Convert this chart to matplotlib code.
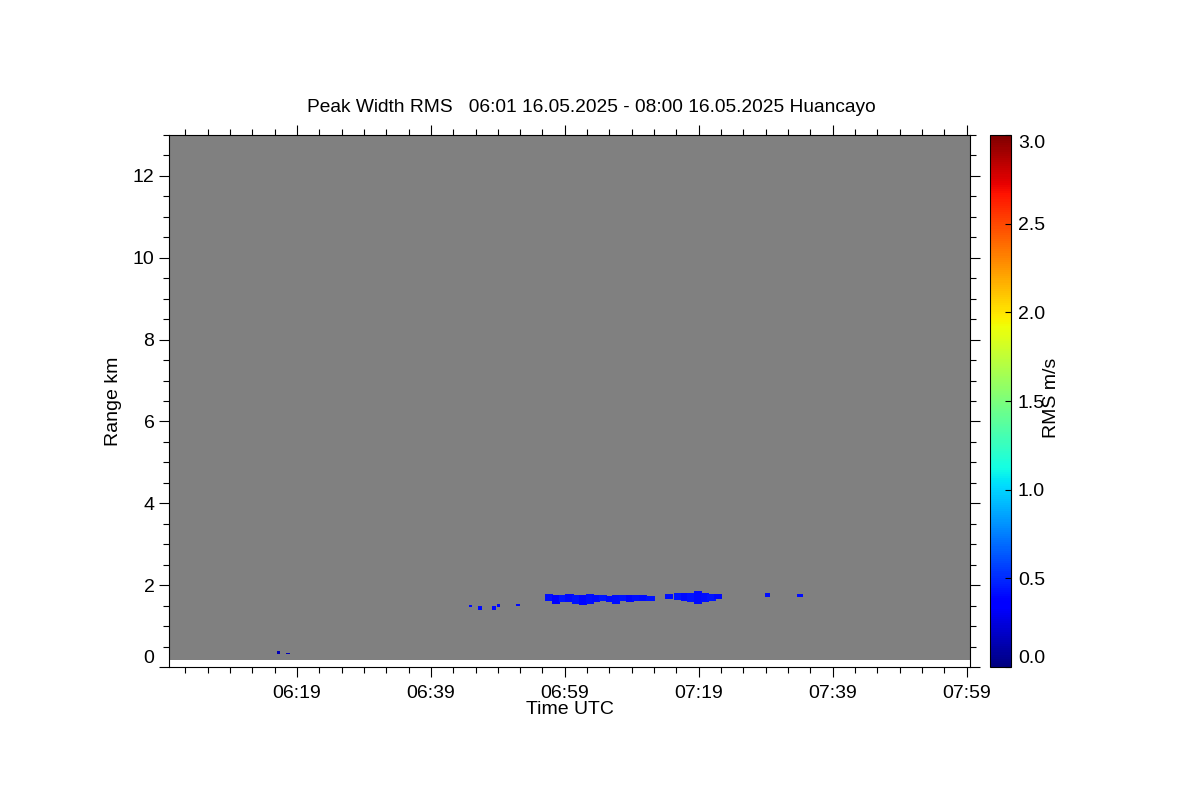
import numpy as np
import matplotlib
matplotlib.use("Agg")
import matplotlib.pyplot as plt
from matplotlib.ticker import FixedLocator, MultipleLocator

plt.rcParams['font.family'] = ['Liberation Sans', 'DejaVu Sans']

# ---- data (time in minutes after 06:00 UTC, range in km, RMS in m/s) ----
seg_t0 = [56.2, 57.2, 58.2, 59.2, 60.2, 61.2, 62.2, 63.2, 64.2, 65.2, 66.2,
          67.2, 68.2, 69.2, 70.2, 71.2,
          74.0, 75.5, 76.5, 77.5, 78.5, 79.5, 80.5, 81.5,
          89.0, 93.9,
          44.8, 46.3, 48.2, 49.0, 51.8, 16.2, 17.5]
seg_t1 = [57.2, 58.2, 59.2, 60.2, 61.2, 62.2, 63.2, 64.2, 65.2, 66.2, 67.2,
          68.2, 69.2, 70.2, 71.2, 72.4,
          75.0, 76.5, 77.5, 78.5, 79.5, 80.5, 81.5, 82.5,
          89.7, 94.5,
          45.0, 46.5, 48.5, 49.2, 52.1, 16.4, 17.7]
seg_bot = [1.60, 1.56, 1.57, 1.59, 1.54, 1.53, 1.56, 1.58, 1.60, 1.59, 1.55,
           1.60, 1.58, 1.61, 1.60, 1.62,
           1.66, 1.63, 1.60, 1.57, 1.56, 1.58, 1.62, 1.66,
           1.71, 1.71,
           1.46, 1.41, 1.41, 1.46, 1.49, 0.32, 0.33]
seg_top = [1.78, 1.77, 1.76, 1.78, 1.77, 1.75, 1.78, 1.77, 1.76, 1.74, 1.77,
           1.76, 1.75, 1.77, 1.76, 1.74,
           1.78, 1.81, 1.83, 1.82, 1.84, 1.83, 1.80, 1.78,
           1.83, 1.80,
           1.51, 1.49, 1.49, 1.54, 1.56, 0.37, 0.36]
seg_val = [0.42, 0.38, 0.44, 0.40, 0.43, 0.39, 0.42, 0.41, 0.44, 0.40, 0.42,
           0.43, 0.39, 0.42, 0.41, 0.43,
           0.42, 0.44, 0.41, 0.43, 0.40, 0.42, 0.44, 0.41,
           0.42, 0.42,
           0.40, 0.40, 0.40, 0.40, 0.40, 0.15, 0.15]

x_major = [19, 39, 59, 79, 99, 119]
x_labels = ['06:19', '06:39', '06:59', '07:19', '07:39', '07:59']
cb_ticks = [0.0, 0.5, 1.0, 1.5, 2.0, 2.5, 3.0]
title = 'Peak Width RMS   06:01 16.05.2025 - 08:00 16.05.2025 Huancayo'

# ---- grid ----
t_edges = np.arange(-0.1, 119.5 + 0.001, 0.2)
r_edges = np.arange(0.17, 13.0 + 0.001, 0.03)
tc = 0.5 * (t_edges[:-1] + t_edges[1:])
rc = 0.5 * (r_edges[:-1] + r_edges[1:])
Z = np.full((len(rc), len(tc)), np.nan)
for a, b, lo, hi, v in zip(seg_t0, seg_t1, seg_bot, seg_top, seg_val):
    mt = (tc >= a - 0.1) & (tc <= b + 0.1)
    mr = (rc >= lo) & (rc <= hi)
    Z[np.ix_(mr, mt)] = v
Zm = np.ma.masked_invalid(Z)

cmap = plt.get_cmap('jet').copy()
cmap.set_bad('#808080')

fig = plt.figure(figsize=(12, 8), dpi=100)
ax = fig.add_axes([169/1200, 1-667/800, 801/1200, 532/800])
mesh = ax.pcolormesh(t_edges, r_edges, Zm, cmap=cmap, vmin=0, vmax=3,
                     shading='flat')
ax.set_xlim(-0.1, 119.5)
ax.set_ylim(0, 13)

minor_x = [19 + k * 20/6 for k in range(-6, 32)]
minor_x = [m for m in minor_x if -0.1 <= m <= 119.5]
ax.xaxis.set_major_locator(FixedLocator(x_major))
ax.xaxis.set_minor_locator(FixedLocator(minor_x))
ax.set_xticklabels(x_labels)
ax.yaxis.set_major_locator(MultipleLocator(2))
ax.yaxis.set_minor_locator(MultipleLocator(0.5))
ax.tick_params(which='both', direction='out', top=True, right=True,
               labeltop=False, labelright=False, labelsize=14, width=0.8)
ax.tick_params(which='major', length=7)
ax.tick_params(which='minor', length=4)
ax.tick_params(axis='x', pad=6)
for lab in ax.get_yticklabels():
    if lab.get_text() == '0':
        lab.set_va('bottom')
for s in ax.spines.values():
    s.set_linewidth(0.8)

ax.set_xlabel('Time UTC', fontsize=14, labelpad=-1)
ax.set_ylabel('Range km', fontsize=14, labelpad=8)
fig.text(591/1200, 1-108/800, title, ha='center', va='center', fontsize=13.8)

cax = fig.add_axes([990/1200, 1-667/800, 21/1200, 532/800])
cb = fig.colorbar(mesh, cax=cax, ticks=cb_ticks)
cb.ax.set_yticklabels([f'{t:.1f}' for t in cb_ticks])
cb.ax.tick_params(direction='in', length=4, labelsize=14, pad=5, width=0.8)
cb.outline.set_linewidth(0.8)
labs = cb.ax.get_yticklabels()
labs[0].set_va('bottom')
labs[-1].set_va('top')
fig.text(1052/1200, 1-398/800, 'RMS m/s', rotation=90, ha='center',
         va='center', fontsize=14)

fig.savefig('out.png', dpi=100)
